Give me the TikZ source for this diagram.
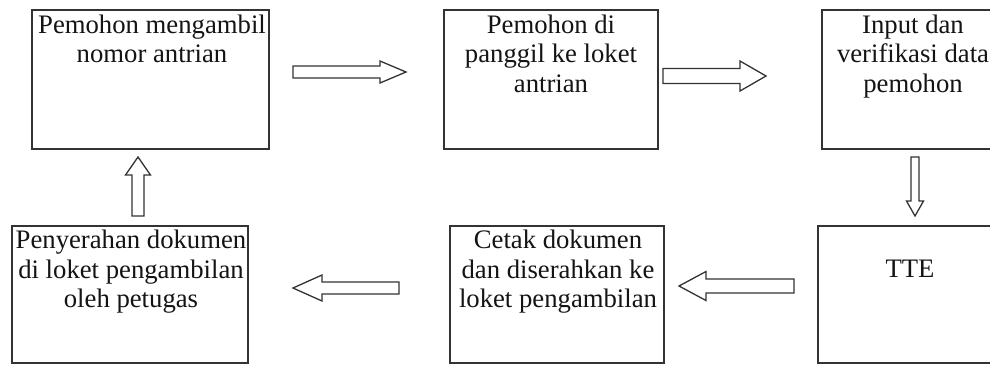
\documentclass[tikz,border=0pt]{standalone}
\usepackage{fontspec}
\setmainfont{Liberation Serif}
\newcommand{\blockarrow}[8]{%
  \coordinate (#1) at (#2,#3);
  \draw[arrowbody, shift={(#1)}, rotate=#4]
    (0,-#6) -- (#5-#8,-#6) -- (#5-#8,-#7) -- (#5,0) -- (#5-#8,#7) -- (#5-#8,#6) -- (0,#6) -- cycle;}
\begin{document}
\begin{tikzpicture}[x=1pt,y=-1pt,
  box/.style={draw=black!80, line width=1.2pt, fill=white, inner sep=0pt, rectangle},
  arrowbody/.style={draw=black!80, line width=1.3pt, fill=white, line join=miter},
  txt/.style={anchor=north, inner sep=0pt, align=center, text=black!92,
    font={\fontsize{26.7}{29.6}\selectfont}}]
\useasboundingbox (0,0) rectangle (990,365);
% boxes
\node[box, minimum width=237pt, minimum height=139pt] (b1) at (150.5,79.5) {};
\node[box, minimum width=214pt, minimum height=139pt] (b2) at (551,79.5) {};
\node[box, minimum width=182pt, minimum height=139pt] (b3) at (913,79.5) {};
\node[box, minimum width=236pt, minimum height=137pt] (b4) at (130,294.5) {};
\node[box, minimum width=214pt, minimum height=137pt] (b5) at (557,294.5) {};
\node[box, minimum width=184pt, minimum height=137pt] (b6) at (910,294.5) {};
% texts
\node[txt] (t1) at (152,12.3) {\strut Pemohon mengambil\\nomor antrian};
\node[txt] (t2) at (551,12.3) {\strut Pemohon di\\panggil ke loket\\antrian};
\node[txt] (t3) at (913,12.3) {\strut Input dan\\verifikasi data\\pemohon};
\node[txt] (t4) at (131,227.8) {\strut Penyerahan dokumen\\di loket pengambilan\\oleh petugas};
\node[txt] (t5) at (558,227.8) {\strut Cetak dokumen\\dan diserahkan ke\\loket pengambilan};
\node[txt] (t6) at (910,256.3) {\strut TTE};
% block arrows
\blockarrow{a1}{293}{72}{0}{113}{6}{11}{26}
\blockarrow{a2}{663}{76}{0}{103}{7.5}{15}{26}
\blockarrow{a3}{915}{157}{-90}{59}{4}{8.5}{15}
\blockarrow{a4}{794}{286}{180}{115}{7}{14.5}{27}
\blockarrow{a5}{399}{288}{180}{106}{6}{13}{29}
\blockarrow{a6}{138}{216}{90}{59}{6}{12.5}{18}
\end{tikzpicture}
\end{document}
